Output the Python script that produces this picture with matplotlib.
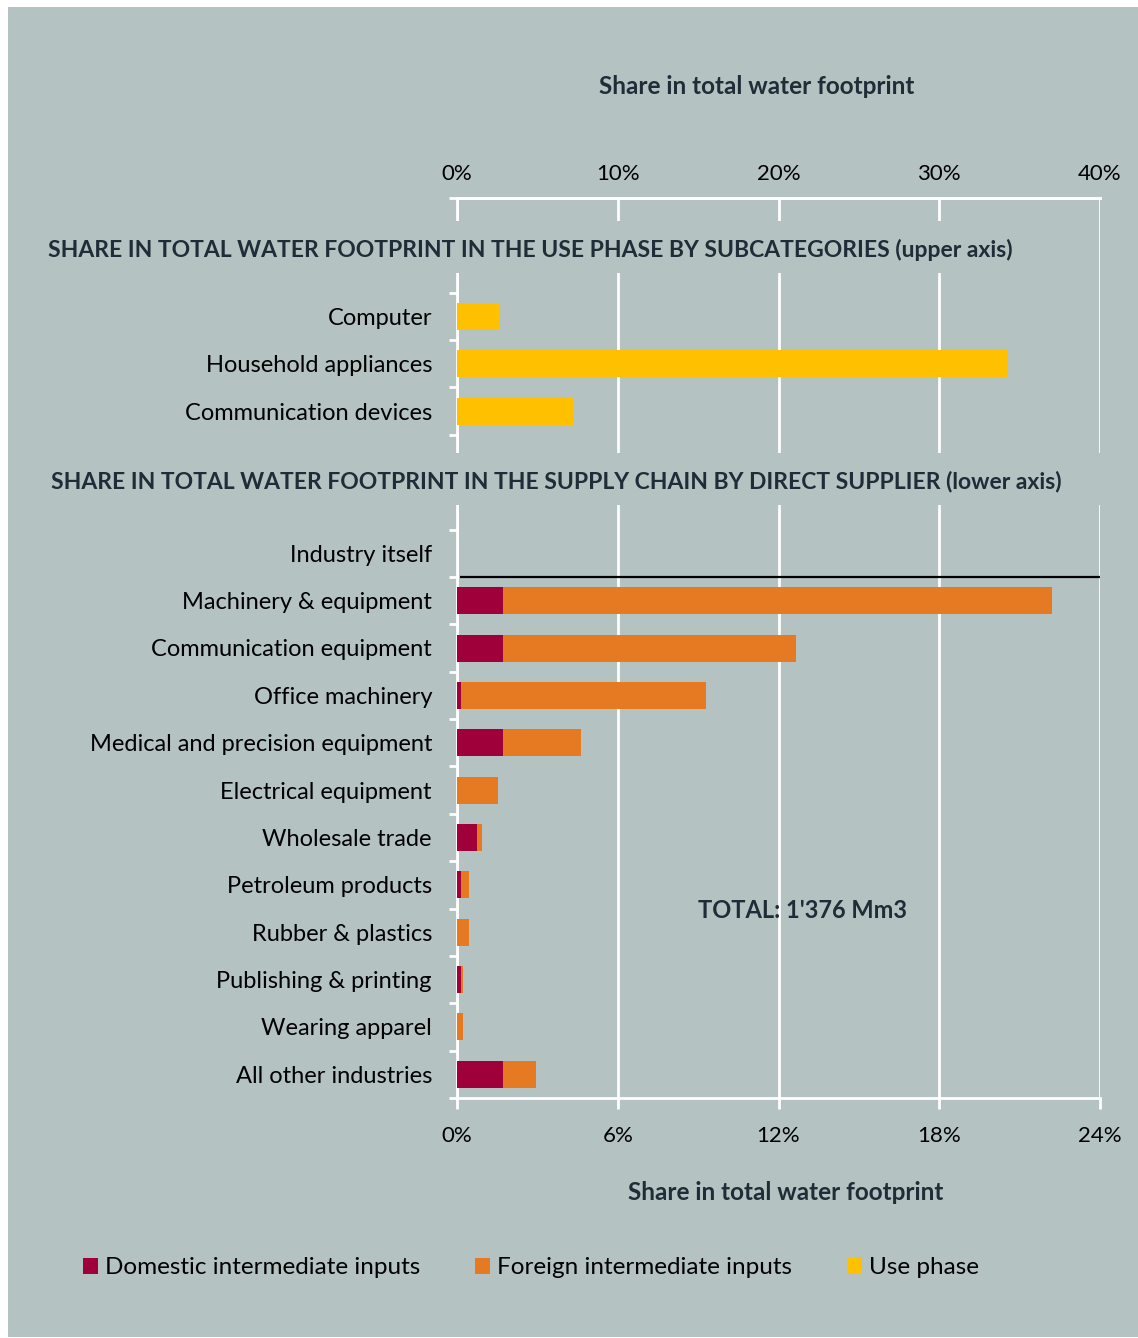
import matplotlib
matplotlib.use("Agg")
import matplotlib.pyplot as plt
from matplotlib.patches import Rectangle
from matplotlib.ticker import FuncFormatter

# ---------------- data ----------------
use_categories = ["Computer", "Household appliances", "Communication devices"]
use_phase = [2.7, 34.2, 7.2]  # % (upper axis)

supplier_categories = ["Industry itself", "Machinery & equipment", "Communication equipment",
                       "Office machinery", "Medical and precision equipment", "Electrical equipment",
                       "Wholesale trade", "Petroleum products", "Rubber & plastics",
                       "Publishing & printing", "Wearing apparel", "All other industries"]
domestic = [0.0, 1.72, 1.72, 0.15, 1.72, 0.0, 0.75, 0.15, 0.0, 0.15, 0.0, 1.72]
foreign = [0.0, 20.5, 10.95, 9.15, 2.9, 1.53, 0.18, 0.3, 0.45, 0.07, 0.22, 1.23]

upper_ticks = [0, 10, 20, 30, 40]
lower_ticks = [0, 6, 12, 18, 24]

title_upper = "SHARE IN TOTAL WATER FOOTPRINT IN THE USE PHASE BY SUBCATEGORIES (upper axis)"
title_lower = "SHARE IN TOTAL WATER FOOTPRINT IN THE SUPPLY CHAIN BY DIRECT SUPPLIER (lower axis)"
axis_label = "Share in total water footprint"
total_text = "TOTAL: 1'376 Mm3"
legend_labels = ["Domestic intermediate inputs", "Foreign intermediate inputs", "Use phase"]

# ---------------- style ----------------
BG = "#b4c2c1"
C_DOM = "#a0003a"
C_FOR = "#e67a22"
C_USE = "#ffc000"
TITLE_C = "#1e2d37"
W, H = 1138, 1338
FONT = "Lato"
plt.rcParams["font.family"] = [FONT, "DejaVu Sans"]

fig = plt.figure(figsize=(W / 100, H / 100), dpi=100)
fig.patch.set_facecolor("white")
fig.patches.append(Rectangle((8 / W, 1 / H), 1 - 8 / W, 1 - 8 / H, transform=fig.transFigure,
                             facecolor=BG, edgecolor="none", zorder=-10))

def fx(px):
    return px / W

def fy(py):
    return 1 - py / H

ax_l, ax_r, ax_t, ax_b = 457, 1100, 198, 1098
ax = fig.add_axes([fx(ax_l), fy(ax_b), fx(ax_r) - fx(ax_l), (ax_b - ax_t) / H])
ax.set_facecolor("none")

# layout of category slots (top to bottom)
n_gap_top, n_gap_mid = 2, 2
use_pos = [n_gap_top + i for i in range(len(use_categories))]
sup_start = n_gap_top + len(use_categories) + n_gap_mid
sup_pos = [sup_start + i for i in range(len(supplier_categories))]
n_slots = sup_start + len(supplier_categories)

bh = 0.57
b_dom = ax.barh(sup_pos, domestic, height=bh, color=C_DOM, zorder=3, label=legend_labels[0])
b_for = ax.barh(sup_pos, foreign, left=domestic, height=bh, color=C_FOR, zorder=3, label=legend_labels[1])
ax.set_xlim(lower_ticks[0], lower_ticks[-1])
ax.set_ylim(n_slots - 0.5, -0.5)

ax2 = ax.twiny()
ax2.set_facecolor("none")
b_use = ax2.barh(use_pos, use_phase, height=bh, color=C_USE, zorder=3, label=legend_labels[2])
ax2.set_xlim(upper_ticks[0], upper_ticks[-1])
ax2.set_ylim(n_slots - 0.5, -0.5)

# separator line below "Industry itself"
ax.plot([0.1, lower_ticks[-1]], [sup_pos[0] + 0.5, sup_pos[0] + 0.5], color="black", lw=1.6, zorder=4,
        solid_capstyle="butt")

# grid & spines
ax.set_xticks(lower_ticks)
ax.xaxis.set_major_formatter(FuncFormatter(lambda v, p: f"{v:.0f}%"))
ax.grid(axis="x", color="white", lw=2.0, zorder=1)
ax.set_axisbelow(True)
ax2.set_xticks(upper_ticks)
ax2.xaxis.set_major_formatter(FuncFormatter(lambda v, p: f"{v:.0f}%"))
for a in (ax, ax2):
    for s in a.spines.values():
        s.set_color("white")
        s.set_linewidth(2.0)
    a.spines["right"].set_visible(False)
ax2.spines["bottom"].set_visible(False)
ax2.spines["left"].set_visible(False)

TICK_FS = 16
LABEL_FS = 17
ax.tick_params(axis="x", which="major", direction="out", length=8, width=2, color="white",
               labelsize=TICK_FS, pad=12, labelcolor="black")
ax2.tick_params(axis="x", which="major", length=0, labelsize=TICK_FS, pad=10, labelcolor="black")

# y ticks: labels at centers, tick marks at boundaries
all_pos = use_pos + sup_pos
all_labels = use_categories + supplier_categories
ax.set_yticks(all_pos)
ax.set_yticklabels(all_labels)
ax.set_yticks([i - 0.5 for i in range(n_slots + 1)], minor=True)
ax.tick_params(axis="y", which="major", length=0, labelsize=LABEL_FS, pad=18, labelcolor="black")
ax.tick_params(axis="y", which="minor", direction="out", length=6, width=2, color="white")
ax2.tick_params(axis="y", which="both", length=0, labelleft=False, labelright=False)

# gaps behind section titles
fig.patches.append(Rectangle((fx(440), fy(273)), fx(1050) - fx(440), (273 - 221) / H,
                             transform=fig.transFigure, facecolor=BG, edgecolor="none", zorder=5))
fig.patches.append(Rectangle((fx(440), fy(505)), fx(1112) - fx(440), (505 - 453) / H,
                             transform=fig.transFigure, facecolor=BG, edgecolor="none", zorder=5))

TITLE_FS = 16.5
fig.text(fx(530), fy(250), title_upper, ha="center", va="center", fontsize=TITLE_FS, fontweight="bold",
         color=TITLE_C, zorder=6)
fig.text(fx(556), fy(482), title_lower, ha="center", va="center", fontsize=TITLE_FS, fontweight="bold",
         color=TITLE_C, zorder=6)
fig.text(fx(757), fy(87), axis_label, ha="center", va="center", fontsize=17.5, fontweight="bold",
         color=TITLE_C)
fig.text(fx(786), fy(1193), axis_label, ha="center", va="center", fontsize=17.5, fontweight="bold",
         color=TITLE_C)
fig.text(fx(803), fy(910), total_text, ha="center", va="center", fontsize=17, fontweight="bold",
         color=TITLE_C)

leg = fig.legend(handles=[b_dom, b_for, b_use], labels=legend_labels, loc="center",
                 bbox_to_anchor=(fx(531), fy(1268)), ncol=3, frameon=False, fontsize=17.5,
                 handlelength=0.62, handleheight=0.62, handletextpad=0.3, columnspacing=2.25)

fig.savefig("out.png", dpi=100, facecolor=fig.get_facecolor())
